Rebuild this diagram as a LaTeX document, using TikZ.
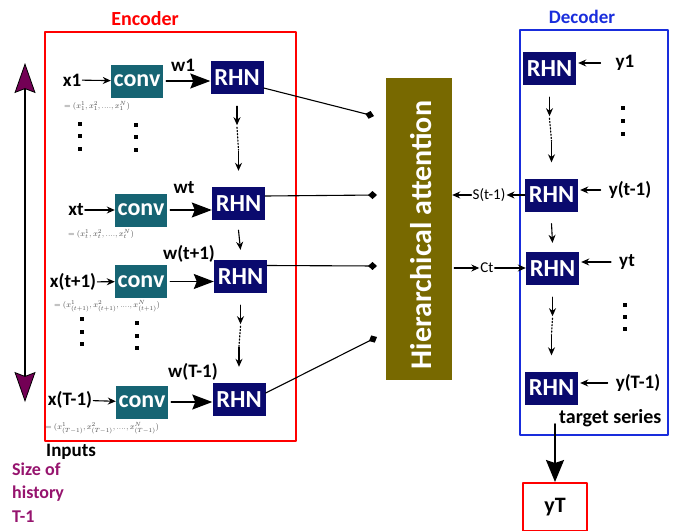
\documentclass[tikz,border=0pt]{standalone}
\usepackage{fontspec}
\setmainfont{Carlito}
\usepackage{amsmath}
\usetikzlibrary{arrows.meta,positioning}

\definecolor{convcol}{RGB}{22,100,115}
\definecolor{rhncol}{RGB}{10,10,110}
\definecolor{attcol}{RGB}{120,105,0}
\definecolor{histcol}{RGB}{150,20,110}
\definecolor{headcol}{RGB}{115,0,85}
\definecolor{deccol}{RGB}{25,45,220}

\tikzset{
	conv/.style={fill=convcol, text=white, minimum width=52, minimum height=33,
		inner sep=0, font=\bfseries\fontsize{24}{24}\selectfont},
	rhn/.style={fill=rhncol, text=white, minimum width=53, minimum height=33,
		inner sep=0, font=\bfseries\fontsize{24.5}{24.5}\selectfont},
	lbl/.style={inner sep=1, font=\bfseries\fontsize{19}{19}\selectfont},
	frm/.style={inner sep=0, text=black!70, font=\fontsize{8}{9}\selectfont},
	small/.style={inner sep=1, font=\fontsize{15}{15}\selectfont},
	arr/.style={-{Stealth[length=8pt,width=7pt]}, line width=1.1pt},
	bigarr/.style={-{Stealth[length=20pt,width=15pt,inset=3pt]}, line width=1.3pt},
	dia/.style={-{Diamond[length=9pt,width=8pt]}, line width=1.1pt},
	sq/.style={fill=black, minimum size=4.5, inner sep=0},
	hist/.style={anchor=west, inner sep=0, text=histcol,
		font=\bfseries\fontsize{18}{18}\selectfont}
}

% arrow, dots, arrow between two RHN cells
\newcommand{\dotlink}[2]{%
	\draw[arr] ([yshift=-12pt]#1.south) -- ++(0,-19pt) coordinate (mid);
	\draw[dotted, line width=1.2pt] ([yshift=-2pt]mid) -- ([yshift=37pt]#2.north);
	\draw[arr] ([yshift=36pt]#2.north) -- ([yshift=16pt]#2.north);
}

\begin{document}
\begin{tikzpicture}[x=1pt, y=-1pt, line cap=round, line join=round]
	\useasboundingbox (0,0) rectangle (676,530);
	
	% Encoder
	\node[draw=red, line width=1.6pt, minimum width=251, minimum height=409,
	inner sep=0] (enc) at (170.5,236.5) {};
	\node[text=red, font=\bfseries\fontsize{20}{20}\selectfont] at (145,19) {Encoder};
	
	\node[conv] (c1) at (137,81) {conv};
	\node[conv] (c2) at (141,210) {conv};
	\node[conv] (c3) at (141,281.5) {conv};
	\node[conv] (c4) at (142,402) {conv};
	
	\node[rhn] (r1) at (237,77.5) {RHN};
	\node[rhn] (r2) at (238.5,203.5) {RHN};
	\node[rhn] (r3) at (240.5,276.5) {RHN};
	\node[rhn] (r4) at (239,399.5) {RHN};
	
	\node[lbl] (x1) at (72,80) {x1};
	\node[lbl] (xt) at (76,210) {xt};
	\node[lbl] (xt1) at (73,282) {x(t+1)};
	\node[lbl] (xT1) at (70,400) {x(T-1)};
	
	\node[lbl] (w1) at (183,65) {w1};
	\node[lbl] (wt) at (184,188) {wt};
	\node[lbl] (wt1) at (189,254) {w(t+1)};
	\node[lbl] (wT1) at (193,372) {w(T-1)};
	
	\node[frm] (f1) at (97,106) {$=(x_1^1,x_1^2,....,x_1^N)$};
	\node[frm] (f2) at (101,234) {$=(x_t^1,x_t^2,....,x_t^N)$};
	\node[frm] (f3) at (107,306) {$=(x_{(t+1)}^1,x_{(t+1)}^2,....,x_{(t+1)}^N)$};
	\node[frm] (f4) at (102,428) {$=(x_{(T-1)}^1,x_{(T-1)}^2,....,x_{(T-1)}^N)$};
	
	\foreach \px/\py in {80/124, 80/136, 80/149, 136/125, 136/137, 136/150,
		82/319, 82/332, 82/344, 137/323, 137/336, 137/348,
		623/108, 623/121, 623/134, 625/305, 625/317, 625/329}
	\node[sq] at (\px,\py) {};
	
	\foreach \a/\b in {x1/c1, xt/c2, xt1/c3, xT1/c4}
	\draw[arr] (\a) -- (\b);
	
	\draw[bigarr, shorten <=3pt] (c1.east) -- (c1.east -| r1.west);
	\draw[bigarr, shorten <=3pt] (c2.east) -- (c2.east -| r2.west);
	\draw[bigarr, shorten <=3pt] (c3.east) -- (c3.east -| r3.west);
	\draw[bigarr, shorten <=3pt] (c4.east) -- (c4.east -| r4.west);
	
	\dotlink{r1}{r2}
	\draw[arr] ([yshift=-10pt]r2.south) -- ([yshift=10pt]r3.north);
	\dotlink{r3}{r4}
	
	\node[lbl, anchor=west] (inp) at (45,452) {Inputs};
	\node[hist] (h1) at (12,469) {Size of};
	\node[hist] (h2) at (12,494) {history};
	\node[hist] (h3) at (12,517) {T-1};
	
	% size of history
	\coordinate (htop) at (25,63);
	\coordinate (hbot) at (25,402);
	\draw[line width=1.4pt,
	{Stealth[length=30pt,width=21pt,inset=4pt,fill=headcol,color=black,line width=0.8pt]}-%
	{Stealth[length=30pt,width=21pt,inset=4pt,fill=headcol,color=black,line width=0.8pt]}]
	(htop) -- (hbot);
	
	% Hierarchical attention
	\node[fill=attcol, minimum width=66, minimum height=302, inner sep=0] (att)
	at (419,229) {};
	\node[rotate=90, inner sep=0, text=white,
	font=\bfseries\fontsize{30}{30}\selectfont] (atttext) at (421,235)
	{Hierarchical attention};
	\coordinate (a1) at (374,116);
	\coordinate (a2) at (377,195);
	\coordinate (a3) at (377,266);
	\coordinate (a4) at (377,337);
	\draw[dia] ([yshift=-10.5pt]r1.east) -- (a1);
	\draw[dia] ([yshift=7.5pt]r2.east) -- (a2);
	\draw[dia] ([yshift=11pt]r3.east) -- (a3);
	\draw[dia] ([yshift=6.5pt]r4.east) -- (a4);
	
	% Decoder
	\node[draw=deccol, line width=1.3pt, minimum width=148, minimum height=405,
	inner sep=0] (dec) at (594,232.5) {};
	\node[text=deccol, font=\bfseries\fontsize{19}{19}\selectfont] at (582,17) {Decoder};
	
	\node[rhn] (d1) at (549.5,68.5) {RHN};
	\node[rhn] (d2) at (551.5,195) {RHN};
	\node[rhn] (d3) at (552.5,268.5) {RHN};
	\node[rhn] (d4) at (551.5,388) {RHN};
	
	\node[lbl] (y1) at (625,63) {y1};
	\node[lbl] (ytm) at (630,190) {y(t-1)};
	\node[lbl] (yt) at (627,262) {yt};
	\node[lbl] (yTm) at (638,383) {y(T-1)};
	
	\draw[arr, shorten <=14pt, shorten >=2pt] (y1.west) -- (y1.west -| d1.east);
	\draw[arr, shorten <=7pt, shorten >=2pt] (ytm.west) -- (ytm.west -| d2.east);
	\draw[arr, shorten <=7pt, shorten >=2pt] (yt.west) -- (yt.west -| d3.east);
	\draw[arr, shorten <=7pt, shorten >=2pt] (yTm.west) -- (yTm.west -| d4.east);
	
	\dotlink{d1}{d2}
	\draw[arr] ([yshift=-12pt]d2.south) -- ([yshift=9pt]d3.north);
	\dotlink{d3}{d4}
	
	\node[small] (s) at (489,195) {S(t-1)};
	\draw[arr] (d2.west) -- (s);
	\draw[arr] (s) -- (s -| att.east);
	\node[small] (ct) at (487,268) {Ct};
	\draw[arr, shorten <=2pt] (ct -| att.east) -- (ct);
	\draw[arr] (ct) -- (ct -| d3.west);
	
	\node[lbl, anchor=west, inner sep=0, font=\bfseries\fontsize{20}{20}\selectfont]
	(ts) at (559,418) {target series};
	
	% output
	\node[draw=red, line width=2pt, minimum width=64, minimum height=48, inner sep=0,
	font=\bfseries\fontsize{22}{22}\selectfont] (yT) at (555,507) {yT};
	\coordinate (tsout) at (555,424);
	\draw[line width=1.8pt, -{Stealth[length=22pt,width=18pt,inset=3pt]}] (tsout) -- (yT.north);
\end{tikzpicture}
\end{document}
